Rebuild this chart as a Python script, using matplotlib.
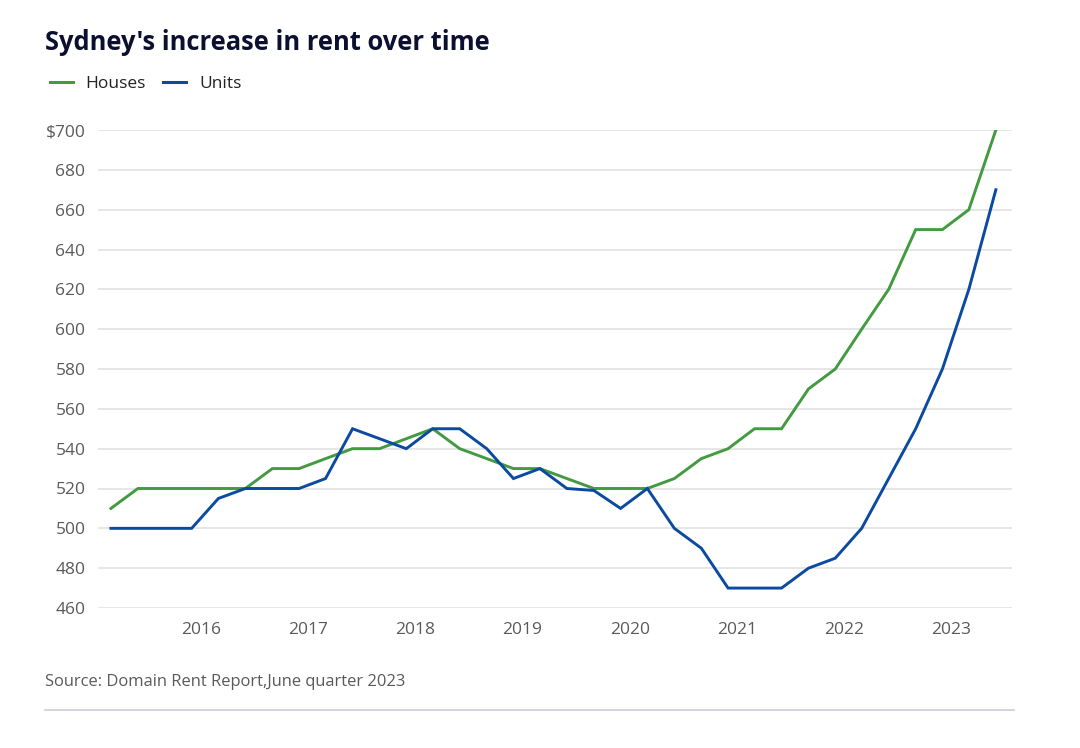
import pandas as pd
import matplotlib
matplotlib.use('Agg')
import matplotlib.pyplot as plt
import matplotlib.dates as mdates
from matplotlib.lines import Line2D

plt.rcParams['font.family'] = ['Open Sans', 'DejaVu Sans']

# quarterly median rents, Mar 2015 .. Jun 2023
quarters = pd.date_range('2015-03-01', '2023-06-01', freq='3MS')
houses = [510, 520, 520, 520, 520, 520, 530, 530, 535, 540, 540, 545,
          550, 540, 535, 530, 530, 525, 520, 520, 520, 525, 535, 540,
          550, 550, 570, 580, 600, 620, 650, 650, 660, 700]
units = [500, 500, 500, 500, 515, 520, 520, 520, 525, 550, 545, 540,
         550, 550, 540, 525, 530, 520, 519, 510, 520, 500, 490, 470,
         470, 470, 480, 485, 500, 525, 550, 580, 620, 670]
yticks = [460, 480, 500, 520, 540, 560, 580, 600, 620, 640, 660, 680, 700]
ylabels = ['$700' if v == 700 else str(v) for v in yticks]

green = '#439a40'
blue = '#0b4aa0'

fig = plt.figure(figsize=(10.8, 7.48), dpi=100)
ax = fig.add_axes([98 / 1080, 1 - 608 / 748, (1012 - 98) / 1080, (608 - 130) / 748])

ax.plot(quarters, houses, color=green, lw=2.1, solid_joinstyle='miter')
ax.plot(quarters, units, color=blue, lw=2.1, solid_joinstyle='miter')

ax.set_ylim(460, 700)
ax.set_yticks(yticks)
ax.set_yticklabels(ylabels)
ax.set_xlim(quarters[0] - pd.Timedelta(days=44), quarters[-1] + pd.Timedelta(days=55))
ax.xaxis.set_major_locator(mdates.YearLocator())
ax.xaxis.set_major_formatter(mdates.DateFormatter('%Y'))

ax.grid(axis='y', color='#e2e2e2', lw=1.2)
ax.set_axisbelow(True)
for s in ax.spines.values():
    s.set_visible(False)
ax.tick_params(axis='both', length=0, labelsize=12.5, labelcolor='#5a5a5a')
ax.tick_params(axis='y', pad=9)
ax.tick_params(axis='x', pad=10)

fig.text(45 / 1080, 1 - 42 / 748, "Sydney's increase in rent over time",
         fontsize=18.4, fontweight='bold', color='#0c1030', va='center', ha='left')

handles = [Line2D([], [], color=green, lw=2.2), Line2D([], [], color=blue, lw=2.2)]
fig.legend(handles, ['Houses', 'Units'], loc='center left',
           bbox_to_anchor=(50 / 1080, 1 - 84 / 748), ncol=2, frameon=False,
           fontsize=12.5, handlelength=1.3, handletextpad=0.75, columnspacing=1.0,
           borderpad=0, borderaxespad=0, labelcolor='#222222')

fig.text(45 / 1080, 1 - 682 / 748, 'Source: Domain Rent Report,June quarter 2023',
         fontsize=11.9, color='#5a5a5a', va='center', ha='left')
fig.add_artist(Line2D([45 / 1080, 1014 / 1080], [1 - 710 / 748, 1 - 710 / 748],
                      color='#c9cedb', lw=1.2, transform=fig.transFigure))

fig.savefig('out.png', dpi=100)
